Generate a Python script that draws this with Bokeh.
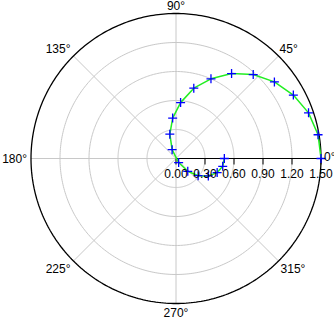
import numpy as np
from bokeh.plotting import figure
from bokeh.models import Range1d, Label
from bokeh.embed import file_html
from bokeh.resources import INLINE

# data (polar: angle in degrees, radius)
theta_deg = [0, 9.5, 19.0, 28.4, 37.9, 47.4, 56.8, 66.3, 75.8, 85.3,
             94.7, 104.2, 113.7, 123.2, 132.6, 142.1, 151.6, 161.1, 170.5, 180.0]
radius = [1.50, 1.49, 1.45, 1.38, 1.29, 1.18, 1.05, 0.90, 0.75, 0.58,
          0.42, 0.26, 0.10, -0.05, -0.18, -0.29, -0.38, -0.45, -0.49, -0.50]
r_ticks = [0.0, 0.3, 0.6, 0.9, 1.2, 1.5]
r_tick_labels = ["0.00", "0.30", "0.60", "0.90", "1.20", "1.50"]
angle_ticks = [0, 45, 90, 135, 180, 225, 270, 315]
angle_labels = ["0°", "45°", "90°", "135°", "180°", "225°", "270°", "315°"]

R = r_ticks[-1]
ppu = 145 / R  # pixels per unit

W, H = 334, 320
cx, cy = 175.5, 158.0
p = figure(width=W, height=H, output_backend="svg", toolbar_location=None,
           x_axis_type=None, y_axis_type=None, min_border=0,
           x_range=Range1d(-cx / ppu, (W - cx) / ppu),
           y_range=Range1d(-(H - cy) / ppu, cy / ppu))
p.outline_line_color = None
p.grid.visible = False
p.background_fill_color = "white"

FONT = "Liberation Sans"

# spokes
for a in angle_ticks:
    if a == 0:
        continue
    ar = np.deg2rad(a)
    p.line([0, R * np.cos(ar)], [0, R * np.sin(ar)], line_color="#c8c8c8", line_width=1)

# grid circles
t = np.linspace(0, 2 * np.pi, 361)
for rv in r_ticks[1:-1]:
    p.line(rv * np.cos(t), rv * np.sin(t), line_color="#c8c8c8", line_width=1)
# outer circle
p.line(R * np.cos(t), R * np.sin(t), line_color="black", line_width=1.3)

# radial axis along 0°
p.line([0, R], [0, 0], line_color="black", line_width=1)
tick_len = 6 / ppu
p.segment(x0=r_ticks, y0=[0] * len(r_ticks), x1=r_ticks, y1=[-tick_len] * len(r_ticks),
          line_color="black", line_width=1)
for rv, lab in zip(r_ticks, r_tick_labels):
    p.add_layout(Label(x=rv, y=0, text=lab, text_align="center", text_baseline="top",
                       y_offset=-10, text_font=FONT, text_font_size="12px", text_color="black"))

# angle labels
place = {
    0: ("left", "middle", 3, 2),
    45: ("left", "bottom", 1, 0),
    90: ("center", "bottom", 0, 1),
    135: ("right", "bottom", -3, 0),
    180: ("right", "middle", -4, 0),
    225: ("right", "top", -3, -1),
    270: ("center", "top", 0, -2),
    315: ("left", "top", 2, -1),
}
for a, lab in zip(angle_ticks, angle_labels):
    ar = np.deg2rad(a)
    al, bl, xo, yo = place[a]
    p.add_layout(Label(x=R * np.cos(ar), y=R * np.sin(ar), text=lab, text_align=al,
                       text_baseline=bl, x_offset=xo, y_offset=yo, text_font=FONT,
                       text_font_size="12px", text_color="black"))

# data
th = np.deg2rad(np.array(theta_deg))
rr = np.array(radius)
x = rr * np.cos(th)
y = rr * np.sin(th)
p.line(x, y, line_color="#22ee22", line_width=1.5)
p.scatter(x, y, marker="cross", size=9, line_color="#0000ff", line_width=1.3)

open("out.html", "w").write(file_html(p, INLINE))
